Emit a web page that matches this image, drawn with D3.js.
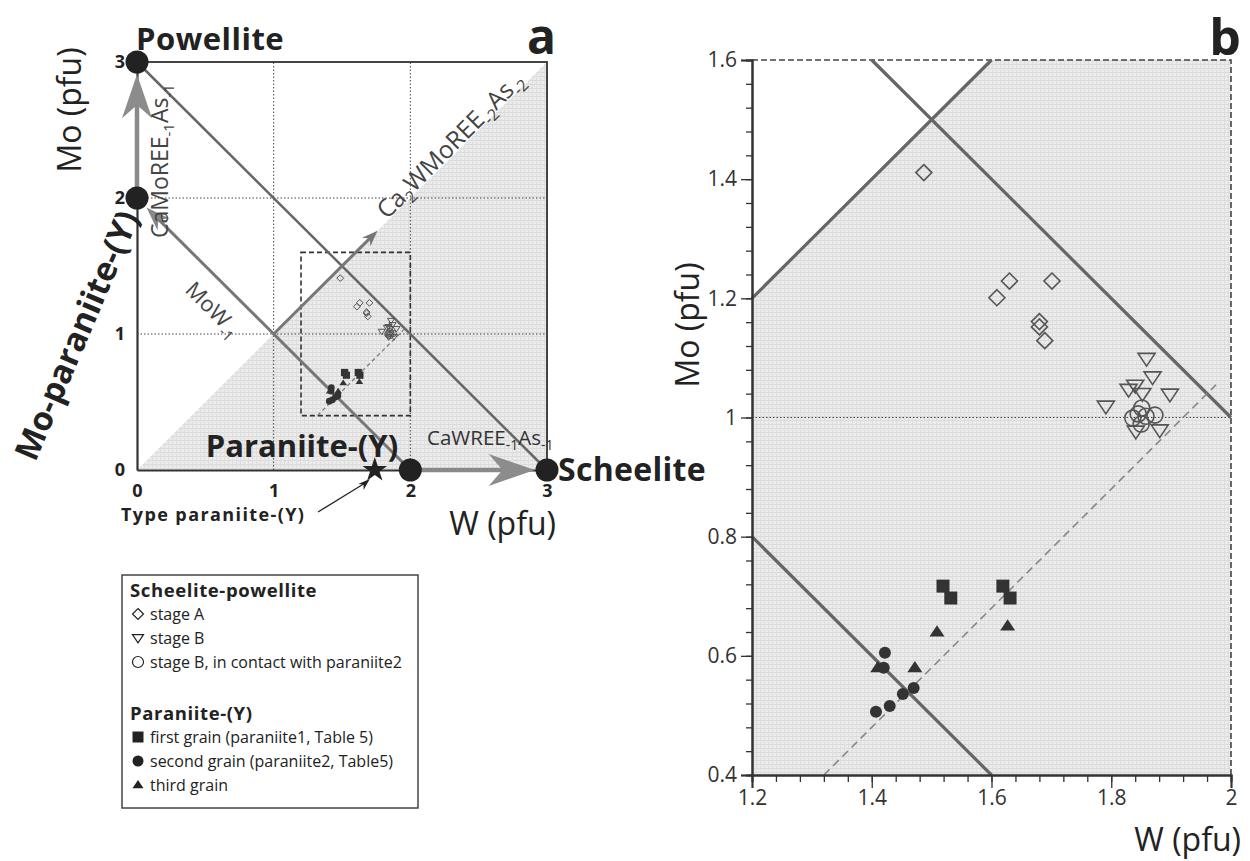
<!DOCTYPE html>
<html><head><meta charset="utf-8">
<script src="https://cdn.jsdelivr.net/npm/d3@7"></script>
<style>body{margin:0;background:#fff} svg{display:block} text{font-family:"Open Sans",sans-serif}</style>
</head><body><svg id="c" width="1250" height="861"></svg>
<script>
// ---------- data (W pfu, Mo pfu) ----------
const stageA = [[1.487,1.411],[1.630,1.229],[1.609,1.201],[1.701,1.229],[1.680,1.161],[1.680,1.152],[1.689,1.129]];
const stageB = [[1.859,1.099],[1.869,1.068],[1.840,1.054],[1.829,1.047],[1.852,1.040],[1.898,1.039],[1.791,1.019],[1.841,0.977],[1.881,0.979]];
const stageBContact = [[1.836,0.999],[1.851,1.016],[1.858,1.002],[1.873,1.004],[1.850,0.989],[1.845,1.006]];
const grain1 = [[1.519,0.717],[1.619,0.717],[1.532,0.697],[1.631,0.697]];
const grain2 = [[1.422,0.605],[1.420,0.580],[1.407,0.506],[1.430,0.516],[1.452,0.536],[1.470,0.546]];
const grain3 = [[1.410,0.580],[1.472,0.580],[1.509,0.640],[1.627,0.650]];
const typeParaniite = [[1.74,0]];
const endMembers = [[0,3],[0,2],[2,0],[3,0]];
const trendLine = [[1.32,0.4],[1.975,1.055]];
const boundaryMoW = [[0,0],[3,3]];          // Mo = W
const boundarySum3 = [[0,3],[3,0]];         // W + Mo = 3
const boundarySum2 = [[0,2],[2,0]];         // W + Mo = 2
const zoomBox = [[1.2,0.4],[2,1.6]];
const aTicks = [0,1,2,3];
const aGrid = [1,2];
const bXTicks = [1.2,1.4,1.6,1.8,2];
const bYTicks = [0.4,0.6,0.8,1,1.2,1.4,1.6];
const bGridY = [1];

const svg = d3.select("#c");
// halftone-like light grey fill
const pat = svg.append("defs").append("pattern").attr("id","shade").attr("width",4).attr("height",4).attr("patternUnits","userSpaceOnUse");
pat.append("rect").attr("width",4).attr("height",4).attr("fill","#ebebeb");
pat.append("rect").attr("width",4).attr("height",1).attr("fill","#dadada");
pat.append("rect").attr("width",1).attr("height",4).attr("fill","#dedede");
const SHADE = "url(#shade)";
const xa = d3.scaleLinear().domain([0,3]).range([137,547]);
const ya = d3.scaleLinear().domain([0,3]).range([470,62]);
const xb = d3.scaleLinear().domain([1.2,2]).range([752,1231]);
const yb = d3.scaleLinear().domain([0.4,1.6]).range([775,60]);

function clipSeg(pts, x0, x1, y0, y1){
  let [[ax,ay],[bx,by]] = pts, t0=0, t1=1, dx=bx-ax, dy=by-ay;
  const p=[-dx,dx,-dy,dy], q=[ax-x0,x1-ax,ay-y0,y1-ay];
  for(let i=0;i<4;i++){ if(p[i]===0){ if(q[i]<0) return null; } else { const r=q[i]/p[i]; if(p[i]<0){ if(r>t1) return null; if(r>t0) t0=r; } else { if(r<t0) return null; if(r<t1) t1=r; } } }
  return [[ax+t0*dx, ay+t0*dy],[ax+t1*dx, ay+t1*dy]];
}
function seg(g, sx, sy, pts, attrs){
  const p = g.append("path").attr("d", d3.line()(pts.map(([w,m])=>[sx(w),sy(m)]))).attr("fill","none");
  for(const k in attrs) p.attr(k, attrs[k]);
  return p;
}
function markerPath(type, s){
  switch(type){
    case "diamond": return `M0,${-s}L${s},0L0,${s}L${-s},0Z`;
    case "tridown": return `M${-s},${-s*0.6}L${s},${-s*0.6}L0,${s*0.9}Z`;
    case "triup":   return `M${-s},${s*0.6}L${s},${s*0.6}L0,${-s*0.9}Z`;
    case "square":  return `M${-s},${-s}H${s}V${s}H${-s}Z`;
    default:        return `M${s},0A${s},${s} 0 1,1 ${-s},0A${s},${s} 0 1,1 ${s},0Z`;
  }
}
function arrowHead(g, x, y, ang, len, wid, fill){
  g.append("path").attr("d",`M0,0L${-len},${-wid/2}L${-len*0.7},0L${-len},${wid/2}Z`)
   .attr("transform",`translate(${x},${y}) rotate(${ang})`).attr("fill",fill);
}
function rich(t, parts, subSize, shift){
  shift = shift||6;
  parts.forEach(([s,sub],i)=>{
    const ts = t.append("tspan").text(s);
    if(sub){ ts.attr("font-size",subSize).attr("dy",shift); }
    else if(i>0 && parts[i-1][1]){ ts.attr("dy",-shift); }
  });
  return t;
}
const series = [
  {data:stageA, shape:"diamond", filled:false, sb:8, sa:3.4, label:"stage A"},
  {data:stageB, shape:"tridown", filled:false, sb:8.5, sa:3.6, label:"stage B"},
  {data:stageBContact, shape:"circle", filled:false, sb:8, sa:3.3, label:"stage B, in contact with paraniite2"},
  {data:grain1, shape:"square", filled:true, sb:6.5, sa:3.6, label:"first grain (paraniite1, Table 5)"},
  {data:grain2, shape:"circle", filled:true, sb:6, sa:3.4, label:"second grain (paraniite2, Table5)"},
  {data:grain3, shape:"triup", filled:true, sb:7.5, sa:3.8, label:"third grain"}
];

// ================= PANEL A =================
const ga = svg.append("g");
ga.append("path").attr("d", d3.line()([[0,0],[3,3],[3,0]].map(([w,m])=>[xa(w),ya(m)]))+"Z").attr("fill",SHADE);
aGrid.forEach(v=>{
  seg(ga,xa,ya,[[v,0],[v,3]],{stroke:"#444","stroke-width":1,"stroke-dasharray":"1.5,2"});
  seg(ga,xa,ya,[[0,v],[3,v]],{stroke:"#444","stroke-width":1,"stroke-dasharray":"1.5,2"});
});
ga.append("rect").attr("x",xa(zoomBox[0][0])).attr("y",ya(zoomBox[1][1]))
  .attr("width",xa(zoomBox[1][0])-xa(zoomBox[0][0])).attr("height",ya(zoomBox[0][1])-ya(zoomBox[1][1]))
  .attr("fill","none").attr("stroke","#333").attr("stroke-width",1.6).attr("stroke-dasharray","5,3");
seg(ga,xa,ya,[[0,3],[3,3],[3,0]],{stroke:"#444","stroke-width":2});
seg(ga,xa,ya,boundarySum3,{stroke:"#666","stroke-width":2.5});
// MoW-1 arrow
seg(ga,xa,ya,[[2,0],[0.1,1.9]],{stroke:"#777","stroke-width":3});
arrowHead(ga,xa(0.07),ya(1.93),-135,24,17,"#888");
// Ca2WMoREE-2As-2 arrow
seg(ga,xa,ya,[[1,1],[1.72,1.72]],{stroke:"#777","stroke-width":3});
arrowHead(ga,xa(1.76),ya(1.76),-45,16,12,"#777");
// axes
const axL = ga.append("g").attr("transform",`translate(${xa(0)},0)`)
  .call(d3.axisLeft(ya).tickValues(aTicks).tickSize(0).tickPadding(12).tickFormat(d3.format("d")));
const axB = ga.append("g").attr("transform",`translate(0,${ya(0)})`)
  .call(d3.axisBottom(xa).tickValues(aTicks).tickSize(0).tickPadding(14).tickFormat(d3.format("d")));
[axL,axB].forEach(a=>{a.select(".domain").attr("stroke","#333").attr("stroke-width",2.2);
  a.selectAll("text").attr("font-size",18).attr("font-weight",700).attr("fill","#222").attr("font-family","Open Sans");});
// vertical & horizontal big arrows
seg(ga,xa,ya,[[0,2],[0,2.75]],{stroke:"#8a8a8a","stroke-width":4.5});
arrowHead(ga,xa(0),ya(2.91),-90,44,30,"#8c8c8c");
seg(ga,xa,ya,[[2,0],[2.7,0]],{stroke:"#8a8a8a","stroke-width":4.5});
arrowHead(ga,xa(2.91),ya(0),0,46,32,"#8c8c8c");
// trend
seg(ga,xa,ya,trendLine,{stroke:"#777","stroke-width":1.2,"stroke-dasharray":"4,3"});
// points (small)
series.forEach(s=>{
  ga.append("g").selectAll("path").data(s.data).join("path")
    .attr("d",markerPath(s.shape,s.sa)).attr("transform",d=>`translate(${xa(d[0])},${ya(d[1])})`)
    .attr("fill",s.filled?"#333":"none").attr("stroke",s.filled?"none":"#555").attr("stroke-width",1);
});
// end members
ga.append("g").selectAll("circle").data(endMembers).join("circle")
  .attr("cx",d=>xa(d[0])).attr("cy",d=>ya(d[1])).attr("r",11.5).attr("fill","#222");
ga.append("g").selectAll("path").data(typeParaniite).join("path")
  .attr("d",d3.symbol(d3.symbolStar,190)()).attr("transform",d=>`translate(${xa(d[0])},${ya(d[1])})`).attr("fill","#222");
// type paraniite arrow
ga.append("line").attr("x1",318).attr("y1",512).attr("x2",xa(typeParaniite[0][0])-8).attr("y2",ya(0)+12)
  .attr("stroke","#222").attr("stroke-width",1.3);
arrowHead(ga,xa(typeParaniite[0][0])-5,ya(0)+9,-42,12,8,"#222");
// texts panel a
ga.append("text").attr("x",136).attr("y",50).attr("font-size",31).attr("font-weight",700).attr("letter-spacing",0.5).attr("fill","#222").text("Powellite");
ga.append("text").attr("x",556).attr("y",54).attr("text-anchor","end").attr("font-size",48).attr("font-weight",700).attr("fill","#222").text("a");
ga.append("text").attr("transform","translate(81,110) rotate(-90)").attr("text-anchor","middle").attr("font-size",32).attr("fill","#222").text("Mo (pfu)");
ga.append("text").attr("transform","translate(76,335) rotate(-67)").attr("text-anchor","middle").attr("dominant-baseline","central").attr("font-size",33).attr("font-weight",700).attr("fill","#222").text("Mo-paraniite-(Y)");
ga.append("text").attr("x",302).attr("y",457).attr("text-anchor","middle").attr("font-size",31).attr("font-weight",700).attr("fill","#222").text("Paraniite-(Y)");
rich(ga.append("text").attr("x",427).attr("y",445).attr("font-size",20.5).attr("fill","#333"),[["CaWREE",false],["-1",true],["As",false],["-1",true]],14,5);
ga.append("text").attr("x",558).attr("y",481).attr("font-size",32).attr("font-weight",700).attr("letter-spacing",0.3).attr("fill","#222").text("Scheelite");
ga.append("text").attr("x",556).attr("y",535).attr("text-anchor","end").attr("font-size",32).attr("fill","#222").text("W (pfu)");
ga.append("text").attr("x",121).attr("y",521).attr("font-size",18).attr("font-weight",700).attr("letter-spacing",1.4).attr("fill","#222").text("Type paraniite-(Y)");
rich(ga.append("text").attr("transform",`translate(168,238) rotate(-90)`).attr("font-size",23).attr("fill","#444"),[["CaMoREE",false],["-1",true],["As",false],["-1",true]],15);
rich(ga.append("text").attr("transform","translate(184,291) rotate(45)").attr("font-size",22).attr("fill","#444"),[["MoW",false],["-1",true]],15);
rich(ga.append("text").attr("transform",`translate(${xa(1.83)},${ya(1.83)-1}) rotate(-45)`).attr("font-size",24.5).attr("fill","#444"),[["Ca",false],["2",true],["WMoREE",false],["-2",true],["As",false],["-2",true]],16);

// ================= LEGEND =================
const lg = svg.append("g");
lg.append("rect").attr("x",122).attr("y",575).attr("width",296).attr("height",233).attr("fill","#fff").attr("stroke","#444").attr("stroke-width",1.5);
lg.append("text").attr("x",130).attr("y",597).attr("font-size",18.5).attr("font-weight",700).attr("letter-spacing",0.6).attr("fill","#222").text("Scheelite-powellite");
lg.append("text").attr("x",130).attr("y",720).attr("font-size",18.5).attr("font-weight",700).attr("letter-spacing",0.6).attr("fill","#222").text("Paraniite-(Y)");
const legY = [614,638,662,737,761,785];
series.forEach((s,i)=>{
  lg.append("path").attr("d",markerPath(s.shape,5.5)).attr("transform",`translate(138,${legY[i]})`)
    .attr("fill",s.filled?"#222":"none").attr("stroke",s.filled?"none":"#222").attr("stroke-width",1.2);
  lg.append("text").attr("x",150).attr("y",legY[i]+6).attr("font-size",16).attr("fill","#222").text(s.label);
});

// ================= PANEL B =================
const gb = svg.append("g");
gb.append("path").attr("d", d3.line()([[1.2,0.4],[1.2,1.2],[1.6,1.6],[2,1.6],[2,0.4]].map(([w,m])=>[xb(w),yb(m)]))+"Z").attr("fill",SHADE);
bGridY.forEach(v=>seg(gb,xb,yb,[[1.2,v],[2,v]],{stroke:"#444","stroke-width":1,"stroke-dasharray":"1.5,2"}));
seg(gb,xb,yb,[[1.2,1.6],[2,1.6],[2,0.4]],{stroke:"#444","stroke-width":1.6,"stroke-dasharray":"6,3"});
[boundaryMoW,boundarySum3,boundarySum2].forEach(L=>{
  const c = clipSeg(L,1.2,2,0.4,1.6); if(c) seg(gb,xb,yb,c,{stroke:"#666","stroke-width":3.2});
});
seg(gb,xb,yb,trendLine,{stroke:"#888","stroke-width":1.6,"stroke-dasharray":"8,5"});
// axes
const minorX = d3.range(1.2,2.0001,0.04), minorY = d3.range(0.4,1.6001,0.04);
const byL = gb.append("g").attr("transform",`translate(${xb(1.2)},0)`);
byL.call(d3.axisLeft(yb).tickValues(minorY).tickSize(6).tickFormat(""));
byL.append("g").call(d3.axisLeft(yb).tickValues(bYTicks).tickSize(11).tickPadding(4).tickFormat(d3.format("")));
const bxB = gb.append("g").attr("transform",`translate(0,${yb(0.4)})`);
bxB.call(d3.axisBottom(xb).tickValues(minorX).tickSize(7).tickFormat(""));
bxB.append("g").call(d3.axisBottom(xb).tickValues(bXTicks).tickSize(13).tickPadding(2).tickFormat(d3.format("")));
[byL,bxB].forEach(a=>{
  a.selectAll(".domain").attr("stroke","#333").attr("stroke-width",2);
  a.selectAll(".tick line").attr("stroke","#333").attr("stroke-width",1.3);
  a.selectAll("text").attr("font-size",21).attr("fill","#333").attr("font-family","Open Sans");
});
// points
series.forEach(s=>{
  gb.append("g").selectAll("path").data(s.data).join("path")
    .attr("d",markerPath(s.shape,s.sb)).attr("transform",d=>`translate(${xb(d[0])},${yb(d[1])})`)
    .attr("fill",s.filled?"#333":"none").attr("stroke",s.filled?"none":"#555").attr("stroke-width",1.6);
});
gb.append("text").attr("x",1241).attr("y",55).attr("text-anchor","end").attr("font-size",50).attr("font-weight",700).attr("fill","#222").text("b");
gb.append("text").attr("transform","translate(699,325) rotate(-90)").attr("text-anchor","middle").attr("font-size",32).attr("fill","#222").text("Mo (pfu)");
gb.append("text").attr("x",1241).attr("y",851).attr("text-anchor","end").attr("font-size",32).attr("fill","#222").text("W (pfu)");
</script></body></html>
